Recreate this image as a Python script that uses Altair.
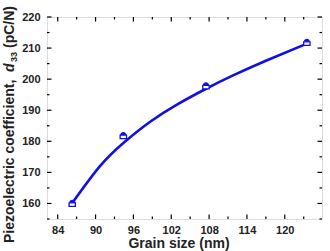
import altair as alt
import pandas as pd

# measured points
grain = [86.3, 94.4, 107.5, 123.5]
d33 = [160.2, 182.0, 198.0, 212.0]

# fitted curve
curve_x = [86.4, 90.7, 94.5, 98.6, 102.9, 107.6, 111.8, 117.1, 123.7]
curve_y = [160.4, 172.0, 179.6, 186.2, 191.8, 197.0, 201.2, 206.0, 211.6]

x_major = [84, 90, 96, 102, 108, 114, 120]
x_minor = [87, 93, 99, 105, 111, 117, 123]
y_major = [160, 170, 180, 190, 200, 210, 220]
y_minor = [155, 165, 175, 185, 195, 205, 215]

W, H = 275, 202
BLUE = "#1010e6"
FONT = "Liberation Sans"

xs = alt.Scale(domain=[82.3, 125.9], nice=False, zero=False)
ys = alt.Scale(domain=[155, 220], nice=False, zero=False)

pts = pd.DataFrame({"g": grain, "d": d33})
cur = pd.DataFrame({"g": curve_x, "d": curve_y})

xaxis = alt.Axis(values=x_major, ticks=False, domain=False, grid=False, labelFont=FONT,
                 labelFontSize=11, labelFontWeight="bold", labelColor="#222", labelPadding=5,
                 labelOverlap=False, labelFlush=False, title=None)
yaxis = alt.Axis(values=y_major, ticks=False, domain=False, grid=False, labelFont=FONT,
                 labelFontSize=11, labelFontWeight="bold", labelColor="#222", labelPadding=7,
                 labelOverlap=False, labelFlush=False, title=None)

line = alt.Chart(cur).mark_line(color=BLUE, strokeWidth=2.6, interpolate="natural").encode(
    x=alt.X("g:Q", scale=xs, axis=xaxis),
    y=alt.Y("d:Q", scale=ys, axis=yaxis),
)

half = "M-1,0A1,1,0,0,1,1,0Z"
box = "M-1,0L1,0L1,1.1L-1,1.1Z"
m_box = alt.Chart(pts).mark_point(shape=box, size=40, filled=True, fill="white", stroke=BLUE,
                                  strokeWidth=1.3, opacity=1).encode(
    x=alt.X("g:Q", scale=xs, axis=xaxis), y=alt.Y("d:Q", scale=ys, axis=yaxis))
m_half = alt.Chart(pts).mark_point(shape=half, size=40, filled=True, color=BLUE, opacity=1).encode(
    x=alt.X("g:Q", scale=xs, axis=xaxis), y=alt.Y("d:Q", scale=ys, axis=yaxis))


def xticks(vals, length):
    df = pd.DataFrame({"v": vals})
    b = alt.Chart(df).mark_rule(color="black", strokeWidth=1.2).encode(
        x=alt.X("v:Q", scale=xs, axis=xaxis), y=alt.value(H), y2=alt.value(H - length))
    t = alt.Chart(df).mark_rule(color="black", strokeWidth=1.2).encode(
        x=alt.X("v:Q", scale=xs, axis=xaxis), y=alt.value(0), y2=alt.value(length))
    return [b, t]


def yticks(vals, length):
    df = pd.DataFrame({"v": vals})
    l = alt.Chart(df).mark_rule(color="black", strokeWidth=1.2).encode(
        y=alt.Y("v:Q", scale=ys, axis=yaxis), x=alt.value(0), x2=alt.value(length))
    r = alt.Chart(df).mark_rule(color="black", strokeWidth=1.2).encode(
        y=alt.Y("v:Q", scale=ys, axis=yaxis), x=alt.value(W), x2=alt.value(W - length))
    return [l, r]


def txt(text, x, y, size=14, angle=0, align="left", baseline="middle", style="normal"):
    return alt.Chart(alt.Data(values=[{}])).mark_text(
        text=text, font=FONT, fontSize=size, fontWeight="bold", fontStyle=style, angle=angle,
        align=align, baseline=baseline, color="#222").encode(x=alt.value(x), y=alt.value(y))


texts = [
    txt("Piezoelectric coefficient,", -37, 226, angle=270),
    txt("d", -37, 55, angle=270, style="italic"),
    txt("33", -33, 45, size=9, angle=270),
    txt("(pC/N)", -37, 31, angle=270),
    txt("Grain size (nm)", 132, 231, align="center", baseline="alphabetic"),
]

layers = ([line] + xticks(x_major, 4.5) + xticks(x_minor, 2.5) + yticks(y_major, 4.5)
          + yticks(y_minor, 2.5) + [m_box, m_half] + texts)

chart = alt.layer(*layers).properties(
    width=W, height=H,
    autosize=alt.AutoSizeParams(type="none"),
    padding={"left": 47, "top": 17, "right": 8, "bottom": 32},
).configure_view(stroke="black", strokeWidth=1.4).configure_axis(
    labelOverlap=False, labelFlush=False
).configure(background="white")

chart.save("out.html", embed_options={"renderer": "svg", "actions": False})
